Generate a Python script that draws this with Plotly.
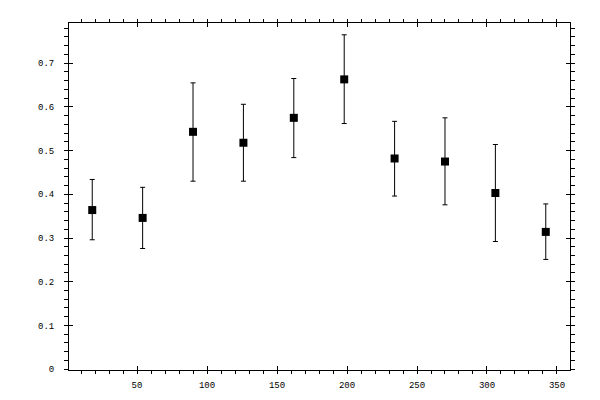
import plotly.graph_objects as go

angle = [18, 54, 90, 126, 162, 198, 234, 270, 306, 342]
value = [0.364, 0.346, 0.543, 0.518, 0.575, 0.663, 0.482, 0.475, 0.403, 0.314]
err_hi = [0.434, 0.416, 0.655, 0.606, 0.665, 0.765, 0.567, 0.575, 0.514, 0.378]
err_lo = [0.296, 0.276, 0.430, 0.430, 0.484, 0.562, 0.396, 0.376, 0.292, 0.251]

x_ticks = [50, 100, 150, 200, 250, 300, 350]
y_ticks = [0, 0.1, 0.2, 0.3, 0.4, 0.5, 0.6, 0.7]
y_labels = ["0", "0.1", "0.2", "0.3", "0.4", "0.5", "0.6", "0.7"]

x_range = [1.4, 359.3]
y_range = [-0.002, 0.792]

plus = [h - v for h, v in zip(err_hi, value)]
minus = [v - l for v, l in zip(value, err_lo)]

fig = go.Figure()
fig.add_trace(go.Scatter(
    x=angle, y=value, mode="markers",
    marker=dict(symbol="square", size=8, color="black"),
    error_y=dict(type="data", symmetric=False, array=plus, arrayminus=minus,
                 color="black", thickness=1, width=2.5),
    showlegend=False,
))
# invisible trace so the overlay axes get drawn
fig.add_trace(go.Scatter(x=[None], y=[None], xaxis="x2", yaxis="y2", showlegend=False))

font = dict(family="Liberation Mono", size=9, color="black")

# the page body adds 8px, so margins are shifted to put the frame at 69..570 / 19..370
fig.update_layout(
    width=600, height=400,
    margin=dict(l=61, r=38, t=11, b=38),
    paper_bgcolor="white", plot_bgcolor="white",
    font=font,
    xaxis=dict(range=x_range, tickvals=x_ticks, ticks="outside", ticklen=3,
               tickwidth=1, tickcolor="black", showline=True, linecolor="black",
               linewidth=1, mirror="ticks", showgrid=False, zeroline=False,
               tickfont=font, ticklabelstandoff=3,
               minor=dict(dtick=10, tick0=0, ticks="outside", ticklen=3,
                          tickcolor="black", showgrid=False)),
    yaxis=dict(range=y_range, tickvals=y_ticks, ticktext=y_labels, ticks="outside",
               ticklen=4, tickwidth=1, tickcolor="black", showline=True,
               linecolor="black", linewidth=1, mirror="ticks", showgrid=False,
               zeroline=False, tickfont=font, ticklabelstandoff=8,
               minor=dict(dtick=0.02, tick0=0, ticks="outside", ticklen=4,
                          tickcolor="black", showgrid=False)),
    xaxis2=dict(range=x_range, overlaying="x", anchor="y2", tickvals=x_ticks,
                ticks="inside", ticklen=4, tickcolor="black", mirror="ticks",
                showticklabels=False, showline=False, showgrid=False, zeroline=False),
    yaxis2=dict(range=y_range, overlaying="y", anchor="x2", tickvals=y_ticks,
                ticks="inside", ticklen=4, tickcolor="black", mirror="ticks",
                showticklabels=False, showline=False, showgrid=False, zeroline=False),
)

fig.write_html("out.html")
